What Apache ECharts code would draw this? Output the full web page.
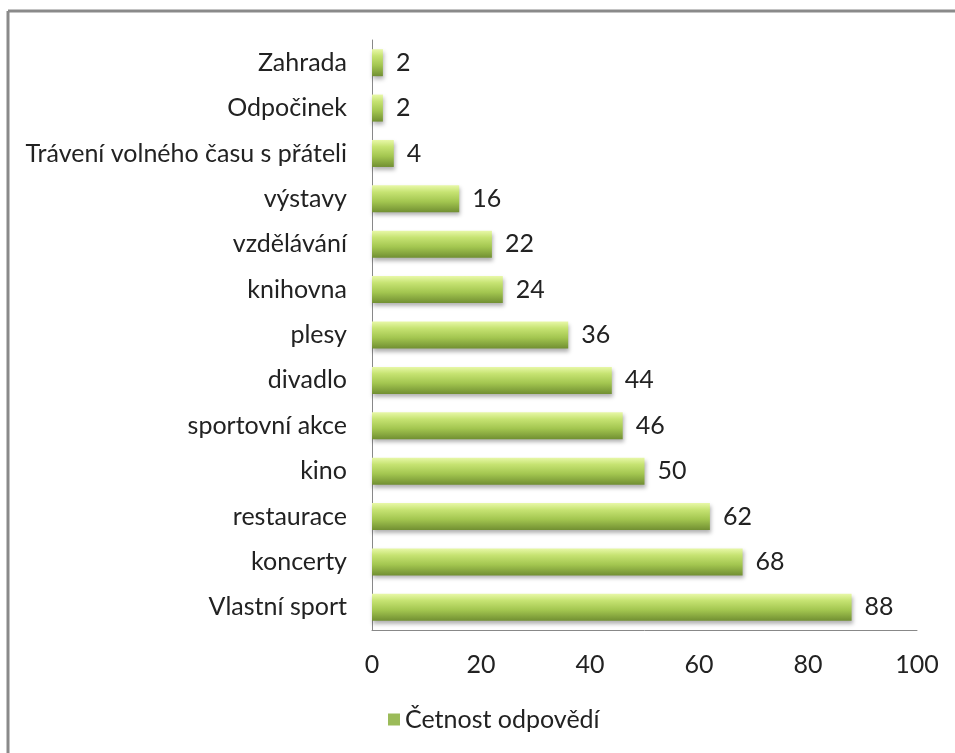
<!DOCTYPE html>
<html>
<head>
<meta charset="utf-8">
<script src="https://cdn.jsdelivr.net/npm/echarts@6/dist/echarts.min.js"></script>
<style>
  html, body { margin: 0; padding: 0; background: #fff; }
  #chart { width: 955px; height: 753px; }
</style>
</head>
<body>
<div id="chart"></div>
<script>
// categories bottom to top, as drawn on the y axis
const categories = [
  'Vlastní sport', 'koncerty', 'restaurace', 'kino', 'sportovní akce',
  'divadlo', 'plesy', 'knihovna', 'vzdělávání', 'výstavy',
  'Trávení volného času s přáteli', 'Odpočinek', 'Zahrada'
];
const counts = [88, 68, 62, 50, 46, 44, 36, 24, 22, 16, 4, 2, 2];
const seriesName = 'Četnost odpovědí';

const font = 'Lato, "Noto Sans", sans-serif';

const barColor = new echarts.graphic.LinearGradient(0, 0, 0, 1, [
  { offset: 0, color: '#e8f8a8' },
  { offset: 0.25, color: '#c6e372' },
  { offset: 0.6, color: '#a3c650' },
  { offset: 1, color: '#718f32' }
]);

const chart = echarts.init(document.getElementById('chart'));
chart.setOption({
  animation: false,
  textStyle: { fontFamily: font },
  graphic: [
    {
      type: 'line',
      shape: { x1: 8, y1: 11, x2: 960, y2: 11 },
      style: { stroke: '#8a8a8a', lineWidth: 3 },
      silent: true
    },
    {
      type: 'line',
      shape: { x1: 8, y1: 11, x2: 8, y2: 760 },
      style: { stroke: '#8a8a8a', lineWidth: 3 },
      silent: true
    }
  ],
  grid: { left: 372, top: 40, right: 38, bottom: 123 },
  legend: {
    bottom: 16,
    left: 383,
    itemWidth: 12,
    itemHeight: 12,
    icon: 'rect',
    itemGap: 8,
    textStyle: { fontSize: 25, color: '#222', fontFamily: font },
    data: [{ name: seriesName, itemStyle: { color: '#9bbb59' } }]
  },
  xAxis: {
    type: 'value',
    min: 0,
    max: 100,
    interval: 20,
    axisLine: { show: true, lineStyle: { color: '#888', width: 1 } },
    axisTick: { show: false },
    splitLine: { show: false },
    axisLabel: { fontSize: 25, color: '#222', margin: 22, fontFamily: font }
  },
  yAxis: {
    type: 'category',
    data: categories,
    axisLine: { show: true, lineStyle: { color: '#888', width: 1 } },
    axisTick: { show: false },
    axisLabel: { fontSize: 25, color: '#222', margin: 25, fontFamily: font }
  },
  series: [{
    name: seriesName,
    type: 'bar',
    data: counts,
    barWidth: 27,
    itemStyle: {
      color: barColor,
      shadowBlur: 4,
      shadowOffsetY: 3,
      shadowOffsetX: 1,
      shadowColor: 'rgba(0,0,0,0.3)'
    },
    label: {
      show: true,
      position: 'right',
      distance: 13,
      fontSize: 25,
      color: '#222',
      fontFamily: font
    }
  }]
});
</script>
</body>
</html>
